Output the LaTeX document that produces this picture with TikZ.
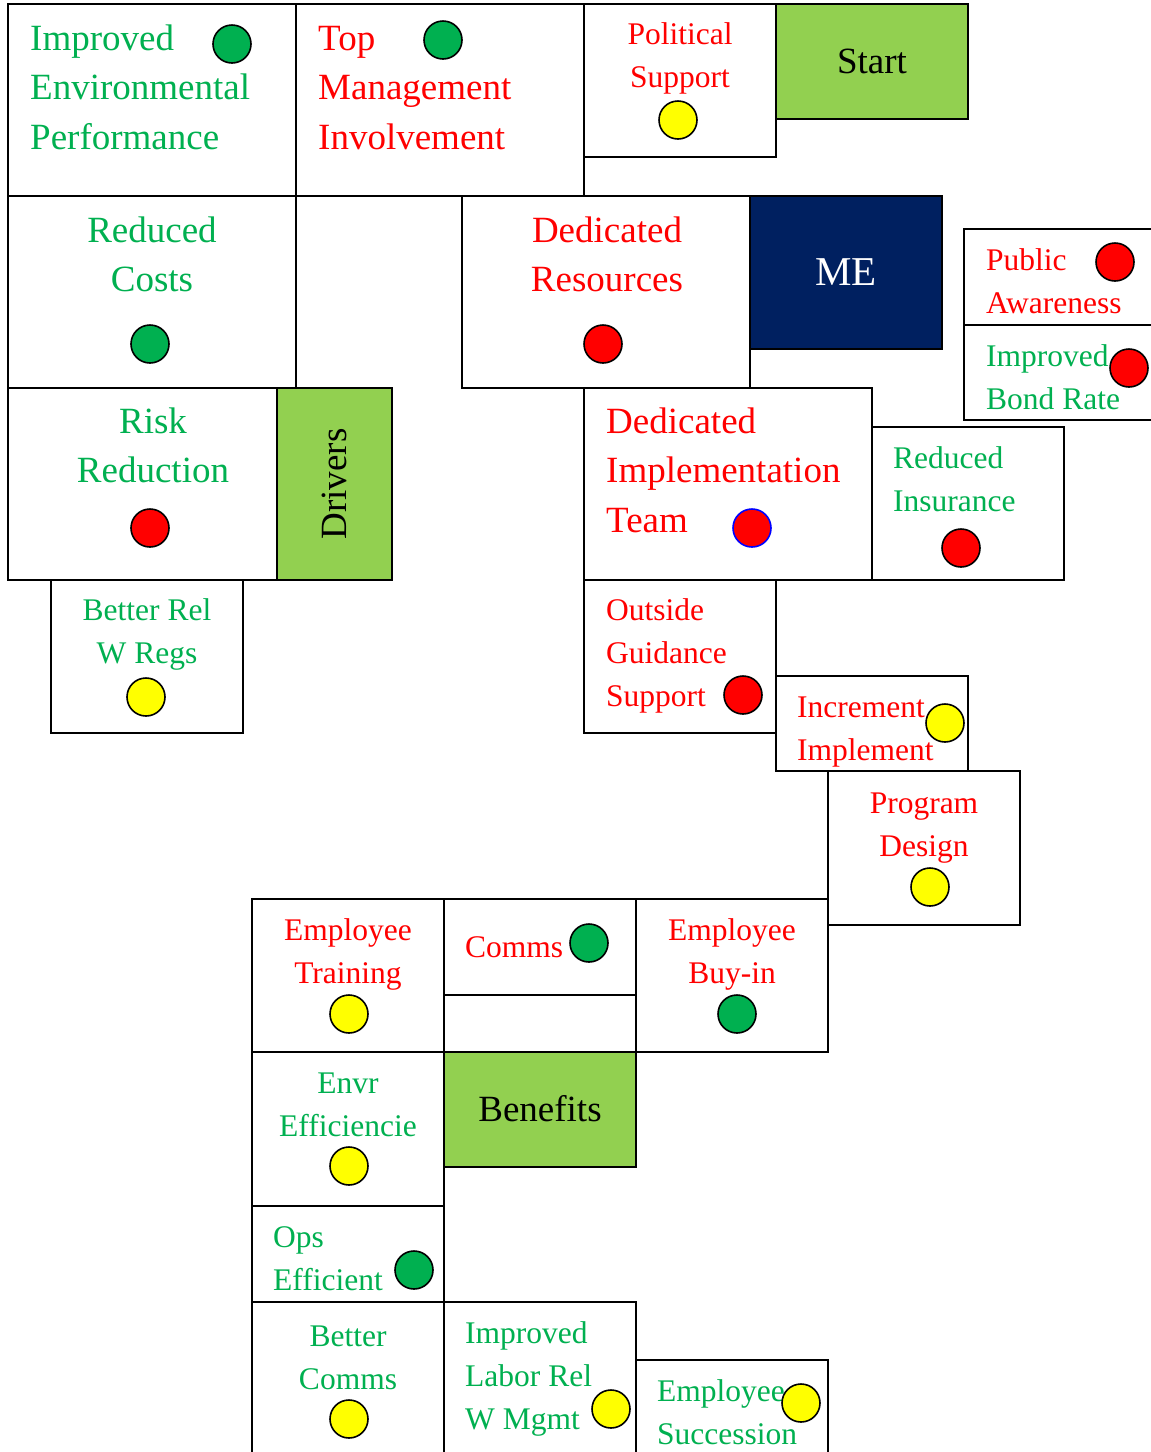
\documentclass[tikz,border=0pt]{standalone}
\usepackage{fontspec}
\setmainfont{Liberation Serif}
\usetikzlibrary{fit}
\definecolor{tred}{HTML}{FF0000}
\definecolor{tgreen}{HTML}{00B050}
\definecolor{tyellow}{HTML}{FFFF00}
\definecolor{lime}{HTML}{92D050}
\definecolor{navy}{HTML}{002060}
% stacked lines, first baseline is the node baseline
\newcommand\lft[1]{\vtop{\halign{##\hfil\cr#1\crcr}}}
\newcommand\ctr[1]{\vtop{\halign{\hfil##\hfil\cr#1\crcr}}}
\begin{document}
\begin{tikzpicture}[x=1pt,y=-1pt,
  box/.style={draw=black, line width=2pt, rectangle, inner sep=0pt},
  bigt/.style={font=\fontsize{37}{49.5}\selectfont, inner sep=0pt},
  smallt/.style={font=\fontsize{31.5}{43}\selectfont, inner sep=0pt},
  dot/.style={circle, draw=black, line width=1.6pt, minimum size=38pt, inner sep=0pt},
  gdot/.style={dot, fill=tgreen},
  rdot/.style={dot, fill=tred},
  ydot/.style={dot, fill=tyellow}]
\path[use as bounding box, clip] (0,0) rectangle (1151,1452);
\fill[white] (0,0) rectangle (1151,1452);

% ---- boxes ----
\node[box, fit={(8,4)(296,196)}] (iep) {};
\node[box, fit={(296,4)(584,196)}] (tmi) {};
\node[box, fit={(584,4)(776,157)}] (ps) {};
\node[box, fill=lime, fit={(776,4)(968,119)}] (start) {};
\node[box, fit={(8,196)(296,388)}] (rc) {};
\node[box, fit={(462,196)(750,388)}] (dr) {};
\node[box, fill=navy, fit={(750,196)(942,349)}] (me) {};
\node[box, fit={(964,229)(1160,325)}] (pa) {};
\node[box, fit={(964,325)(1160,420)}] (ibr) {};
\node[box, fit={(8,388)(277,580)}] (rr) {};
\node[box, fill=lime, fit={(277,388)(392,580)}] (drivers) {};
\node[box, fit={(51,580)(243,733)}] (brwr) {};
\node[box, fit={(584,388)(872,580)}] (dit) {};
\node[box, fit={(872,427)(1064,580)}] (ri) {};
\node[box, fit={(584,580)(776,733)}] (ogs) {};
\node[box, fit={(776,676)(968,771)}] (ii) {};
\node[box, fit={(828,771)(1020,925)}] (pd) {};
\node[box, fit={(252,899)(444,1052)}] (et) {};
\node[box, fit={(444,899)(636,995)}] (comms) {};
\node[box, fit={(636,899)(828,1052)}] (eb) {};
\node[box, fit={(252,1052)(444,1206)}] (ee) {};
\node[box, fill=lime, fit={(444,1052)(636,1167)}] (benefits) {};
\node[box, fit={(252,1206)(444,1302)}] (oe) {};
\node[box, fit={(252,1302)(444,1470)}] (bc) {};
\node[box, fit={(444,1302)(636,1470)}] (ilr) {};
\node[box, fit={(636,1360)(828,1470)}] (es) {};

% ---- labels ----
\node[bigt, text=tgreen, anchor=base west] (iepT) at (30,50) {\lft{Improved\cr Environmental\cr Performance}};
\node[bigt, text=tred, anchor=base west] (tmiT) at (318,50) {\lft{Top\cr Management\cr Involvement}};
\node[smallt, text=tred, anchor=base] (psT) at (680,44) {\ctr{Political\cr Support}};
\node[bigt, text=black, anchor=base] (startT) at (872,73) {Start};
\node[bigt, text=tgreen, anchor=base] (rcT) at (152,242) {\ctr{Reduced\cr Costs}};
\node[bigt, text=tred, anchor=base] (drT) at (607,242) {\ctr{Dedicated\cr Resources}};
\node[font=\fontsize{41}{49}\selectfont, inner sep=0pt, text=white, anchor=base] (meT) at (846,285) {ME};
\node[smallt, text=tred, anchor=base west] (paT) at (986,270) {\lft{Public\cr Awareness}};
\node[smallt, text=tgreen, anchor=base west] (ibrT) at (986,366) {\lft{Improved\cr Bond Rate}};
\node[bigt, text=tgreen, anchor=base] (rrT) at (153,433) {\ctr{Risk\cr Reduction}};
\node[bigt, text=black, rotate=90] (driversT) at (334,484) {Drivers};
\node[smallt, text=tgreen, anchor=base] (brwrT) at (147,620) {\ctr{Better Rel\cr W Regs}};
\node[bigt, text=tred, anchor=base west] (ditT) at (606,433) {\lft{Dedicated\cr Implementation\cr Team}};
\node[smallt, text=tgreen, anchor=base west] (riT) at (893,468) {\lft{Reduced\cr Insurance}};
\node[smallt, text=tred, anchor=base west] (ogsT) at (606,620) {\lft{Outside\cr Guidance\cr Support}};
\node[smallt, text=tred, anchor=base west] (iiT) at (797,717) {\lft{Increment\cr Implement}};
\node[smallt, text=tred, anchor=base] (pdT) at (924,813) {\ctr{Program\cr Design}};
\node[smallt, text=tred, anchor=base] (etT) at (348,940) {\ctr{Employee\cr Training}};
\node[smallt, text=tred, anchor=base west] (commsT) at (465,957) {Comms};
\node[smallt, text=tred, anchor=base] (ebT) at (732,940) {\ctr{Employee\cr Buy-in}};
\node[smallt, text=tgreen, anchor=base] (eeT) at (348,1093) {\ctr{Envr\cr Efficiencie}};
\node[bigt, text=black, anchor=base] (benefitsT) at (540,1121) {Benefits};
\node[smallt, text=tgreen, anchor=base west] (oeT) at (273,1247) {\lft{Ops\cr Efficient}};
\node[smallt, text=tgreen, anchor=base] (bcT) at (348,1346) {\ctr{Better\cr Comms}};
\node[smallt, text=tgreen, anchor=base west] (ilrT) at (465,1343) {\lft{Improved\cr Labor Rel\cr W Mgmt}};
\node[smallt, text=tgreen, anchor=base west] (esT) at (657,1401) {\lft{Employee\cr Succession}};

% ---- status dots ----
\node[gdot] (iepD) at (232,44) {};
\node[gdot] (tmiD) at (443,40) {};
\node[ydot] (psD) at (678,120) {};
\node[gdot] (rcD) at (150,344) {};
\node[rdot] (drD) at (603,344) {};
\node[rdot] (paD) at (1115,262) {};
\node[rdot] (ibrD) at (1129,368) {};
\node[rdot] (rrD) at (150,528) {};
\node[ydot] (brwrD) at (146,697) {};
\node[rdot, draw=blue] (ditD) at (752,528) {};
\node[rdot] (riD) at (961,548) {};
\node[rdot] (ogsD) at (743,695) {};
\node[ydot] (iiD) at (945,723) {};
\node[ydot] (pdD) at (930,887) {};
\node[ydot] (etD) at (349,1014) {};
\node[gdot] (commsD) at (589,943) {};
\node[gdot] (ebD) at (737,1014) {};
\node[ydot] (eeD) at (349,1166) {};
\node[gdot] (oeD) at (414,1270) {};
\node[ydot] (bcD) at (349,1419) {};
\node[ydot] (ilrD) at (611,1409) {};
\node[ydot] (esD) at (801,1403) {};
\end{tikzpicture}
\end{document}
